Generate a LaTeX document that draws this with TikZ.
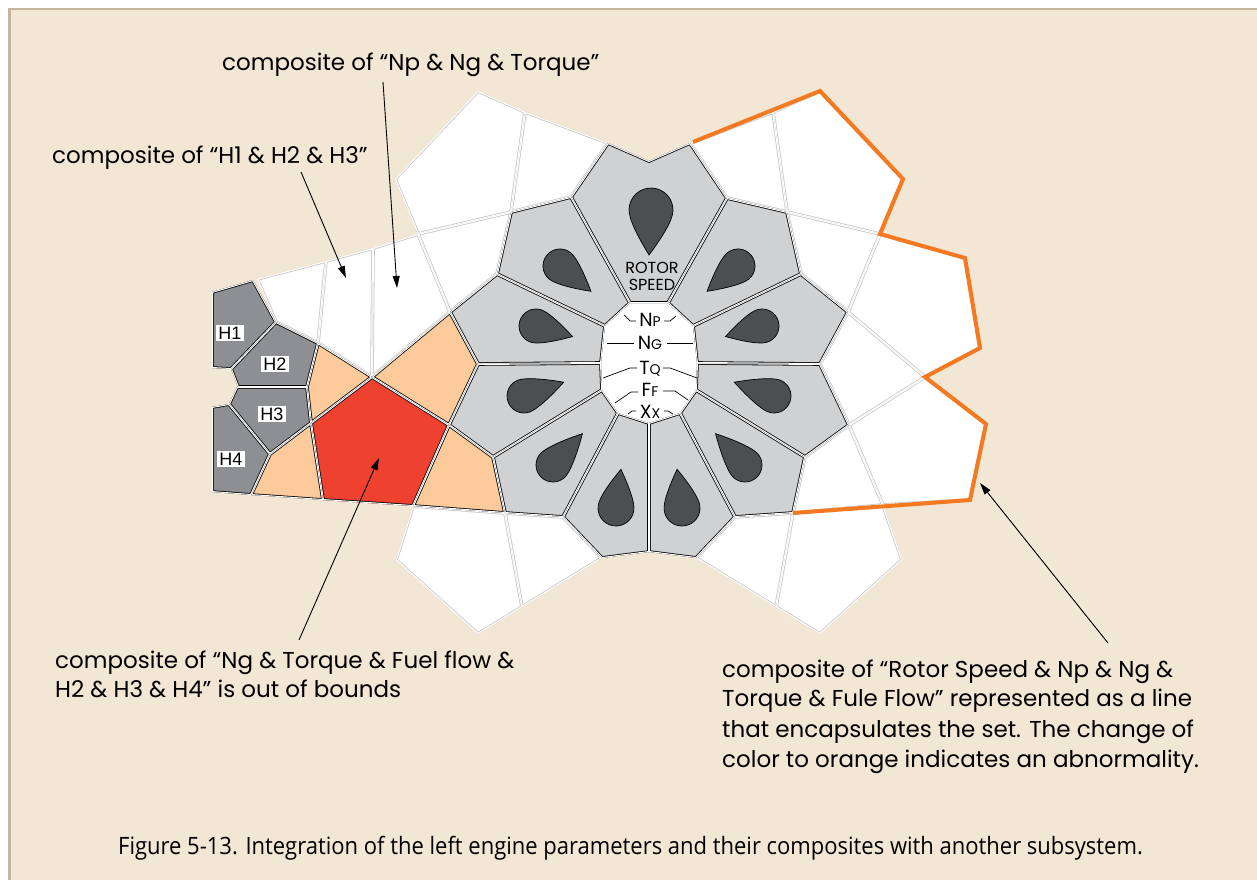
\documentclass[tikz,border=0pt]{standalone}
\usepackage{fontspec}
\setmainfont{Poppins}
\newfontfamily\capfont[FakeStretch=0.92]{Open Sans}
\newfontfamily\hfont{Liberation Sans}
\usetikzlibrary{arrows.meta}
\definecolor{beige}{RGB}{242,230,213}
\definecolor{framec}{RGB}{196,180,160}
\definecolor{petal}{RGB}{208,209,211}
\definecolor{dropc}{RGB}{77,78,80}
\definecolor{hgray}{RGB}{142,143,146}
\definecolor{peach}{RGB}{253,203,155}
\definecolor{redc}{RGB}{238,65,48}
\definecolor{orangec}{RGB}{244,121,32}
\definecolor{wedge}{RGB}{200,200,200}
\newcommand{\mycell}[3]{\begin{scope}\clip #3 -- cycle;\fill[#1] #3 -- cycle;\draw[#2,line width=3.6pt] #3 -- cycle;\draw[white,line width=2pt] #3 -- cycle;\end{scope}}
\newcommand{\mydrop}[5]{\draw[fill=dropc,draw=black,line width=0.7pt,shift={(#1,#2)},rotate=#3] (#4,0) .. controls ({0.6*#4},{0.55*#5}) and ({0.45*#5},{#5}) .. (0,#5) arc[start angle=90,end angle=270,radius=#5] .. controls ({0.45*#5},{-#5}) and ({0.6*#4},{-0.55*#5}) .. (#4,0) -- cycle;}
\newcommand{\hublab}[2]{{\fontsize{19}{19}\selectfont #1}{\fontsize{14}{14}\selectfont #2}}
\tikzset{
  anno/.style={font=\fontsize{23}{23}\selectfont, inner sep=0pt},
  hlab/.style={fill=white, inner sep=2pt, font=\hfont\fontsize{18}{18}\selectfont},
  arr/.style={line width=0.9pt, -{Triangle[length=12pt,width=7pt]}},
  lead/.style={line width=0.7pt},
}
\begin{document}
\begin{tikzpicture}[x=1pt,y=-1pt]
\useasboundingbox (0,0) rectangle (1257,880);
\fill[white] (0,0) rectangle (1257,880);
\fill[beige] (8,8) rectangle (1257,880);
\draw[framec, line width=2.5pt] (9.25,880) -- (9.25,9.25) -- (1257,9.25);

% white cells (left)
\mycell{white}{wedge}{(478,91) -- (525,112) -- (511,212) -- (418,234) -- (395,179)}
\mycell{white}{wedge}{(525,112) -- (608,143) -- (571,197) -- (511,212)}
\mycell{white}{wedge}{(418,234) -- (511,212) -- (497,274) -- (450,312)}
\mycell{white}{wedge}{(373,248) -- (418,234) -- (450,312) -- (372,377)}
\mycell{white}{wedge}{(326,261) -- (373,248) -- (372,377) -- (318,343)}
\mycell{white}{wedge}{(257,279) -- (326,261) -- (318,343) -- (276,322)}
% white cells (right)
\mycell{white}{wedge}{(820,91) -- (773,112) -- (787,212) -- (880,234) -- (903,179)}
\mycell{white}{wedge}{(773,112) -- (690,143) -- (727,198) -- (787,212)}
\mycell{white}{wedge}{(787,212) -- (880,234) -- (848,312) -- (801,274)}
\mycell{white}{wedge}{(880,234) -- (965,258) -- (980,348) -- (925,377) -- (848,312)}
\mycell{white}{wedge}{(848,312) -- (925,377) -- (849,425) -- (820,364)}
\mycell{white}{wedge}{(925,377) -- (986,424) -- (970,500) -- (883,505) -- (849,425)}
\mycell{white}{wedge}{(849,425) -- (883,505) -- (793,513) -- (805,457)}
% white cells (bottom)
\mycell{white}{wedge}{(413,506) -- (505,513) -- (522,607) -- (478,634) -- (396,560)}
\mycell{white}{wedge}{(505,513) -- (563,517) -- (602,558) -- (522,607)}
\mycell{white}{wedge}{(793,513) -- (735,517) -- (696,558) -- (776,607)}
\mycell{white}{wedge}{(883,505) -- (793,513) -- (776,607) -- (820,634) -- (902,560)}

% orange / red composite
\mycell{peach}{black}{(318,343) -- (372,377) -- (311,423) -- (307,387)}
\mycell{peach}{black}{(372,377) -- (450,312) -- (478,364) -- (449,425)}
\mycell{redc}{black}{(372,377) -- (449,425) -- (413,506) -- (323,500) -- (311,423)}
\mycell{peach}{black}{(311,423) -- (323,500) -- (251,495) -- (270,454)}
\mycell{peach}{black}{(449,425) -- (493,457) -- (505,513) -- (413,506)}

% H cells
\mycell{hgray}{black}{(212,292) -- (253,280) -- (276,322) -- (231,369) -- (212,368)}
\mycell{hgray}{black}{(276,322) -- (318,343) -- (307,387) -- (238,387) -- (231,369)}
\mycell{hgray}{black}{(237,387) -- (307,387) -- (311,423) -- (270,454) -- (229,404)}
\mycell{hgray}{black}{(212,407) -- (229,404) -- (270,454) -- (251,495) -- (212,492)}

% hub
\fill[white] (630,303) -- (668,303) -- (693,326) -- (697,363) -- (696,390) -- (680,413) -- (649,423) -- (618,413) -- (602,390) -- (601,363) -- (605,326) -- cycle;

% petals
\mycell{petal}{black}{(608,143) -- (649,161) -- (690,143) -- (727,198) -- (668,303) -- (630,303) -- (571,197)}
\mycell{petal}{black}{(511,212) -- (571,197) -- (630,303) -- (605,326) -- (497,274)}
\mycell{petal}{black}{(497,274) -- (605,326) -- (601,363) -- (478,364) -- (450,312)}
\mycell{petal}{black}{(478,364) -- (601,363) -- (602,390) -- (493,457) -- (449,425)}
\mycell{petal}{black}{(493,457) -- (602,390) -- (618,413) -- (563,517) -- (505,513)}
\mycell{petal}{black}{(563,517) -- (618,413) -- (649,423) -- (649,552) -- (602,558)}
\mycell{petal}{black}{(735,517) -- (680,413) -- (649,423) -- (649,552) -- (696,558)}
\mycell{petal}{black}{(805,457) -- (696,390) -- (680,413) -- (735,517) -- (793,513)}
\mycell{petal}{black}{(820,364) -- (697,363) -- (696,390) -- (805,457) -- (849,425)}
\mycell{petal}{black}{(801,274) -- (693,326) -- (697,363) -- (820,364) -- (848,312)}
\mycell{petal}{black}{(787,212) -- (727,198) -- (668,303) -- (693,326) -- (801,274)}

% teardrops
\mydrop{651}{210}{-92.5}{45}{22}
\mydrop{560}{266}{-39.3}{40}{17}
\mydrop{536}{326}{-16.1}{38}{17}
\mydrop{524}{396}{19.2}{42}{17}
\mydrop{553}{465}{46.8}{43}{17}
\mydrop{616}{508}{82.7}{39}{18}
\mydrop{682}{508}{97.3}{39}{18}
\mydrop{745}{465}{133.2}{43}{17}
\mydrop{774}{396}{160.8}{42}{17}
\mydrop{762}{326}{196.1}{38}{17}
\mydrop{738}{266}{219.3}{40}{17}

% orange encapsulating line
\draw[orangec, line width=4pt, line join=miter] (693,142) -- (820,91) -- (903,179) -- (880,234) -- (965,258) -- (980,348) -- (925,377) -- (986,424) -- (970,500) -- (793,513);

% hub labels
\node[inner sep=0pt, font=\fontsize{16}{16}\selectfont, anchor=base] (rotor) at (652,273) {ROTOR};
\node[inner sep=0pt, font=\fontsize{16}{16}\selectfont, anchor=base] (speed) at (652,290) {SPEED};
\node[inner sep=0pt, anchor=base] (np) at (650,326) {\hublab{N}{P}};
\node[inner sep=0pt, anchor=base] (ng) at (650,349) {\hublab{N}{G}};
\node[inner sep=0pt, anchor=base] (tq) at (650,374) {\hublab{T}{Q}};
\node[inner sep=0pt, anchor=base] (ff) at (650,396) {\hublab{F}{F}};
\node[inner sep=0pt, anchor=base] (xx) at (650,418) {\hublab{X}{X}};
\draw[lead] (624,315) -- (630,321) -- (636,321);
\draw[lead] (664,321) -- (670,321) -- (676,316);
\draw[lead] (607,343) -- (634,343);
\draw[lead] (667,343) -- (693,343);
\draw[lead] (603,378) -- (630,368) -- (637,368);
\draw[lead] (663,368) -- (670,368) -- (697,378);
\draw[lead] (615,403) -- (631,392) -- (638,392);
\draw[lead] (663,391) -- (675,391) -- (688,400);
\draw[lead] (628,414) -- (632,411) -- (636,411);
\draw[lead] (664,411) -- (668,411) -- (673,414);

% H labels
\node[hlab] (h1) at (230,333) {H1};
\node[hlab] (h2) at (275,364) {H2};
\node[hlab] (h3) at (272,414) {H3};
\node[hlab] (h4) at (231,459) {H4};

% annotations
\node[anno, anchor=base west] (t1) at (222,71) {composite of “Np \& Ng \& Torque”};
\node[anno, anchor=base west] (t2) at (52,163) {composite of “H1 \& H2 \& H3”};
\node[anno, anchor=base west] (t3a) at (55,668) {composite of “Ng \& Torque \& Fuel flow \&};
\node[anno, anchor=base west] (t3b) at (55,697) {H2 \& H3 \& H4” is out of bounds};
\node[anno, anchor=base west] (t4a) at (722,677) {composite of “Rotor Speed \& Np \& Ng \&};
\node[anno, anchor=base west] (t4b) at (722,706) {Torque \& Fule Flow” represented as a line};
\node[anno, anchor=base west] (t4c) at (722,737) {that encapsulates the set. The change of};
\node[anno, anchor=base west] (t4d) at (722,767) {color to orange indicates an abnormality.};
\node[inner sep=0pt, anchor=base west, font=\capfont\fontsize{23.9}{23.9}\selectfont] (cap) at (118,854) {Figure 5-13. Integration of the left engine parameters and their composites with another subsystem.};

% arrows
\coordinate (a1s) at (383,82);
\coordinate (a1e) at (397,288);
\coordinate (a2s) at (301,172);
\coordinate (a2e) at (346,278);
\coordinate (a3s) at (299,640);
\coordinate (a3e) at (379,458);
\coordinate (a4s) at (1108,643);
\coordinate (a4e) at (980,483);
\draw[arr] (a1s) -- (a1e);
\draw[arr] (a2s) -- (a2e);
\draw[arr] (a3s) -- (a3e);
\draw[arr] (a4s) -- (a4e);
\end{tikzpicture}
\end{document}
